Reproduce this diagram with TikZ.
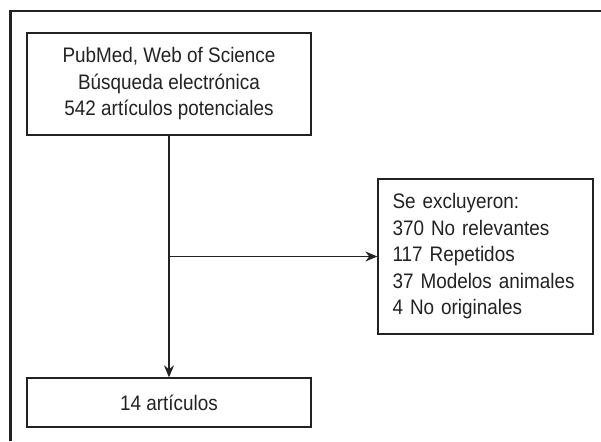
\documentclass[tikz,border=0pt]{standalone}
\usepackage{fontspec}
\setmainfont{Liberation Sans}[FakeStretch=0.9]
\usetikzlibrary{arrows.meta}
\definecolor{ink}{HTML}{222222}
\tikzset{
  box/.style={draw=ink, line width=1.3pt, text=ink, font=\fontsize{21}{26.5}\selectfont, inner sep=0pt, align=center},
  conn/.style={draw=ink, line width=1.3pt},
  arr/.style={conn, -{Stealth[length=12pt,width=10pt]}}
}
\begin{document}
\begin{tikzpicture}[x=1pt,y=-1pt]
\useasboundingbox (0,0) rectangle (601,441);
\draw[ink, line width=2.5pt] (10.5,441) -- (10.5,11) -- (601,11);
\node[box, minimum width=284pt, minimum height=102pt] (top) at (169,84)
  {PubMed, Web of Science\\Búsqueda electrónica\\542 artículos potenciales};
\node[box, minimum width=284pt, minimum height=49pt] (bot) at (169,402.5) {14 artículos};
\node[box, minimum height=155pt, text width=186pt, inner xsep=14.5pt, align=left] (excl) at (485.5,256.5)
  {Se excluyeron:\\370 No relevantes\\117 Repetidos\\37 Modelos animales\\4 No originales};
\coordinate (br) at (169,256.5);
\draw[arr] (top.south) -- (bot.north);
\draw[arr] (br) -- (excl.west);
\end{tikzpicture}
\end{document}
